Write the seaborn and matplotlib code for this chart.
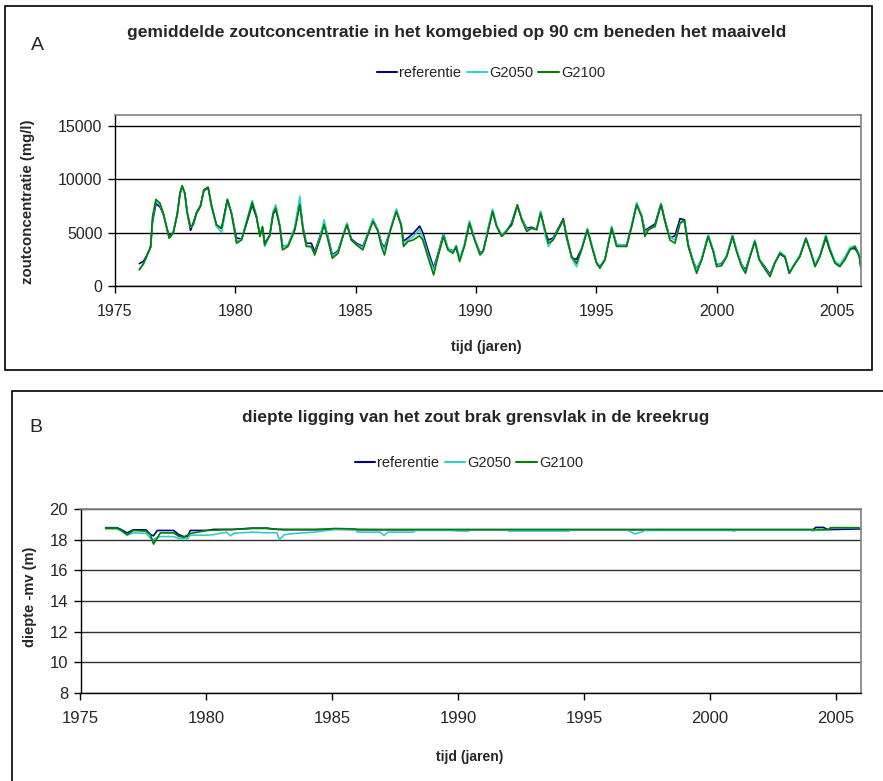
import matplotlib
matplotlib.use("Agg")
import matplotlib.pyplot as plt
from matplotlib.patches import Rectangle
import pandas as pd
import seaborn as sns

# ---------------- gegevens ----------------
scenarios = ["referentie", "G2050", "G2100"]
kleuren = ["#000080", "#33CCCC", "#008000"]

# A: zoutconcentratie (mg/l) op 90 cm beneden maaiveld
jaar_a = [1976.01, 1976.18, 1976.31, 1976.48, 1976.56, 1976.70, 1976.87, 1977.01, 1977.17, 1977.25,
          1977.42, 1977.59, 1977.70, 1977.79, 1977.90, 1978.00, 1978.14, 1978.25, 1978.39, 1978.55,
          1978.69, 1978.87, 1979.01, 1979.22, 1979.43, 1979.67, 1979.84, 1980.05, 1980.26, 1980.46,
          1980.70, 1980.88, 1981.02, 1981.13, 1981.22, 1981.43, 1981.57, 1981.68, 1981.85, 1981.96,
          1982.19, 1982.47, 1982.68, 1982.81, 1982.95, 1983.16, 1983.30, 1983.51, 1983.69, 1983.85,
          1984.03, 1984.27, 1984.47, 1984.64, 1984.82, 1985.03, 1985.30, 1985.51, 1985.72, 1985.93,
          1986.07, 1986.20, 1986.41, 1986.69, 1986.89, 1986.99, 1987.17, 1987.38, 1987.66, 1987.79,
          1988.00, 1988.24, 1988.42, 1988.65, 1988.83, 1989.04, 1989.18, 1989.32, 1989.52, 1989.73,
          1989.94, 1990.17, 1990.30, 1990.51, 1990.69, 1990.86, 1991.07, 1991.27, 1991.48, 1991.72,
          1991.90, 1992.11, 1992.31, 1992.52, 1992.69, 1992.87, 1993.01, 1993.21, 1993.42, 1993.63,
          1993.77, 1993.98, 1994.18, 1994.39, 1994.63, 1994.81, 1995.01, 1995.15, 1995.36, 1995.64,
          1995.84, 1996.05, 1996.26, 1996.47, 1996.68, 1996.88, 1997.02, 1997.16, 1997.44, 1997.69,
          1997.85, 1998.06, 1998.27, 1998.48, 1998.66, 1998.82, 1999.03, 1999.17, 1999.38, 1999.65,
          1999.86, 2000.00, 2000.21, 2000.42, 2000.66, 2000.83, 2001.04, 2001.20, 2001.39, 2001.59,
          2001.77, 2001.94, 2002.22, 2002.42, 2002.63, 2002.84, 2003.02, 2003.19, 2003.46, 2003.71,
          2003.88, 2004.09, 2004.29, 2004.54, 2004.71, 2004.92, 2005.12, 2005.33, 2005.54, 2005.75,
          2005.93, 2005.98]

referentie_a = [2100, 2300, 2800, 3600, 6000, 7700, 7400, 6700, 5300, 4700,
                5000, 6700, 8600, 9300, 8700, 6900, 5200, 5900, 6900, 7500,
                8900, 9200, 7600, 5600, 5400, 8100, 6800, 4500, 4400, 5800,
                7600, 6400, 4800, 5400, 4000, 4700, 6700, 7200, 5600, 3700,
                3800, 5300, 7800, 5500, 4000, 4000, 3200, 4600, 5900, 4600,
                2900, 3300, 4700, 5800, 4400, 4000, 3700, 4900, 6200, 5200,
                4000, 3600, 5000, 7100, 5700, 4200, 4500, 4900, 5600, 5000,
                3400, 1700, 3000, 4900, 3500, 3300, 3500, 2500, 3800, 5900,
                4400, 3100, 3300, 5300, 7000, 5600, 4700, 5200, 5700, 7500,
                6300, 5400, 5500, 5300, 6900, 5100, 4300, 4500, 5400, 6300,
                4500, 2600, 2500, 3500, 5300, 3800, 2200, 1800, 2500, 5500,
                3900, 3800, 3800, 5600, 7700, 6600, 5200, 5400, 5800, 7700,
                6200, 4500, 4700, 6300, 6200, 3900, 2300, 1600, 2500, 4700,
                3300, 2000, 2100, 2800, 4700, 3300, 2000, 1500, 2800, 4200,
                2500, 2000, 1100, 2200, 3000, 2700, 1200, 1900, 2800, 4400,
                3400, 1900, 2800, 4500, 3300, 2200, 1900, 2600, 3500, 3500,
                2900, 2000]

g2050_a = [1600, 2000, 2700, 3700, 6300, 8000, 7600, 6700, 5200, 4500,
           5000, 6800, 8700, 9350, 8600, 6900, 5500, 5700, 6800, 7400,
           9000, 9250, 7500, 5600, 5000, 7900, 6900, 4200, 4400, 6000,
           8000, 6600, 4700, 5500, 3700, 4700, 7000, 7600, 5700, 3600,
           3900, 5500, 8400, 5400, 3800, 3600, 3000, 4500, 6200, 4500,
           2800, 3200, 4700, 5900, 4300, 3900, 3600, 4900, 6300, 5200,
           3900, 3400, 5000, 7200, 5800, 3800, 4300, 4600, 5300, 4600,
           3000, 1500, 2900, 4800, 3600, 3200, 3800, 2600, 3900, 6100,
           4500, 3000, 3300, 5500, 7200, 5700, 4800, 5200, 5900, 7600,
           6300, 5300, 5400, 5300, 7000, 4800, 3700, 4400, 5300, 6200,
           4700, 2600, 1800, 3500, 5400, 3900, 2200, 1700, 2500, 5600,
           3900, 3800, 3700, 5700, 7800, 6600, 5000, 5300, 5600, 7700,
           6100, 4600, 4300, 5900, 6000, 3800, 2300, 1500, 2600, 4800,
           3400, 2100, 2000, 2900, 4800, 3400, 2000, 1300, 2900, 4300,
           2600, 1900, 1000, 2200, 3200, 2800, 1300, 1900, 2900, 4500,
           3400, 2000, 2800, 4800, 3500, 2300, 2000, 2700, 3600, 3750,
           3000, 2400]

g2100_a = [1500, 2100, 2750, 3700, 6500, 8100, 7750, 6800, 5250, 4470,
           4940, 6800, 8700, 9380, 8700, 6800, 5570, 5720, 6800, 7440,
           9000, 9250, 7440, 5720, 5410, 8070, 6800, 4000, 4300, 5880,
           7820, 6500, 4630, 5570, 3850, 4780, 6800, 7290, 5570, 3380,
           3700, 5250, 7600, 5250, 3700, 3700, 2900, 4300, 5720, 4300,
           2600, 3060, 4630, 5720, 4300, 3850, 3380, 4780, 6030, 5100,
           3700, 2900, 4940, 6970, 5720, 3700, 4160, 4300, 4700, 4300,
           2750, 1030, 2750, 4630, 3380, 3060, 3700, 2280, 3700, 5880,
           4300, 2900, 3220, 5250, 6970, 5570, 4630, 5100, 5880, 7600,
           6190, 5100, 5410, 5250, 6800, 5250, 4000, 4300, 5250, 6190,
           4630, 2750, 2130, 3380, 5250, 3700, 2130, 1660, 2440, 5410,
           3700, 3700, 3700, 5570, 7600, 6500, 4630, 5250, 5570, 7600,
           6030, 4300, 4000, 5880, 6190, 3700, 2130, 1190, 2440, 4630,
           3220, 1810, 1900, 2750, 4630, 3220, 1810, 1190, 2750, 4160,
           2440, 1810, 875, 2130, 3060, 2750, 1190, 1810, 2750, 4470,
           3380, 1810, 2750, 4630, 3380, 2130, 1810, 2440, 3380, 3700,
           2750, 1810]

# B: diepte van het zout/brak grensvlak (m -mv)
jaar_b = [1976.0, 1976.45, 1976.6, 1976.85, 1977.1, 1977.6, 1977.78, 1977.9, 1978.05, 1978.17,
          1978.7, 1978.9, 1979.1, 1979.25, 1979.36, 1980.0, 1980.3, 1980.8, 1980.96, 1981.1,
          1981.8, 1982.4, 1982.8, 1982.9, 1983.1, 1983.6, 1984.3, 1984.8, 1985.1, 1985.9,
          1986.0, 1986.9, 1987.06, 1987.2, 1988.2, 1988.3, 1989.8, 1990.0, 1990.4, 1990.5,
          1991.9, 1992.0, 1994.4, 1994.5, 1996.7, 1997.0, 1997.3, 1997.4, 2000.85, 2000.95,
          2001.05, 2004.0, 2004.1, 2004.2, 2004.5, 2004.7, 2004.8, 2005.9, 2006.0]

referentie_b = [18.78, 18.78, 18.67, 18.44, 18.64, 18.64, 18.33, 18.25, 18.60, 18.60,
                18.60, 18.33, 18.20, 18.20, 18.60, 18.60, 18.67, 18.67, 18.67, 18.67,
                18.75, 18.75, 18.67, 18.67, 18.65, 18.65, 18.65, 18.65, 18.68, 18.66,
                18.65, 18.65, 18.65, 18.65, 18.65, 18.65, 18.65, 18.65, 18.65, 18.65,
                18.65, 18.65, 18.65, 18.65, 18.65, 18.65, 18.65, 18.65, 18.65, 18.65,
                18.65, 18.65, 18.65, 18.80, 18.80, 18.65, 18.66, 18.70, 18.68]

g2050_b = [18.73, 18.73, 18.60, 18.29, 18.44, 18.42, 18.10, 18.00, 18.15, 18.20,
           18.20, 18.07, 18.07, 18.07, 18.29, 18.29, 18.33, 18.49, 18.25, 18.42,
           18.49, 18.45, 18.45, 18.00, 18.33, 18.42, 18.49, 18.60, 18.67, 18.67,
           18.49, 18.49, 18.27, 18.49, 18.49, 18.60, 18.60, 18.56, 18.56, 18.64,
           18.64, 18.56, 18.56, 18.64, 18.64, 18.38, 18.50, 18.60, 18.60, 18.55,
           18.62, 18.62, 18.56, 18.62, 18.62, 18.65, 18.78, 18.78, 18.68]

g2100_b = [18.73, 18.73, 18.62, 18.33, 18.60, 18.56, 18.30, 17.71, 18.11, 18.44,
           18.44, 18.22, 18.16, 18.30, 18.40, 18.60, 18.62, 18.65, 18.65, 18.67,
           18.73, 18.73, 18.68, 18.67, 18.67, 18.67, 18.67, 18.70, 18.73, 18.70,
           18.67, 18.66, 18.66, 18.66, 18.66, 18.66, 18.66, 18.66, 18.66, 18.66,
           18.66, 18.66, 18.66, 18.66, 18.66, 18.66, 18.66, 18.66, 18.66, 18.66,
           18.66, 18.66, 18.66, 18.66, 18.66, 18.66, 18.78, 18.78, 18.68]

jaar_ticks = [1975, 1980, 1985, 1990, 1995, 2000, 2005]
conc_ticks = [0, 5000, 10000, 15000]
diepte_ticks = [8, 10, 12, 14, 16, 18, 20]


def lang_formaat(jaar, reeksen):
    delen = []
    for naam, waarden in zip(scenarios, reeksen):
        delen.append(pd.DataFrame({"jaar": jaar, "waarde": waarden, "scenario": naam}))
    return pd.concat(delen, ignore_index=True)


df_a = lang_formaat(jaar_a, [referentie_a, g2050_a, g2100_a])
df_b = lang_formaat(jaar_b, [referentie_b, g2050_b, g2100_b])

# ---------------- opmaak ----------------
sns.set_style("white")
plt.rcParams["font.family"] = ["Liberation Sans", "DejaVu Sans"]
LETTER = ["Liberation Sans", "DejaVu Sans"]
GRIJS = "#808080"

W, H = 883, 781
fig = plt.figure(figsize=(W / 100, H / 100), dpi=100)


def fx(px):
    return px / W


def fy(py):
    return 1 - py / H


# kaders rond beide panelen
fig.add_artist(Rectangle((fx(5), fy(370)), fx(867), (370 - 6) / H, transform=fig.transFigure,
                         fill=False, edgecolor="black", linewidth=1.2))
fig.add_artist(Rectangle((fx(12), -0.05), 1.1, fy(391) + 0.05, transform=fig.transFigure,
                         fill=False, edgecolor="black", linewidth=1.2))


def teken_paneel(ax, df, ylim, yticks, gridkleur, ticksize):
    sns.lineplot(data=df, x="jaar", y="waarde", hue="scenario", hue_order=scenarios,
                 palette=kleuren, estimator=None, sort=False, errorbar=None,
                 linewidth=1.2, ax=ax)
    ax.set_xlim(1975, 2006)
    ax.set_ylim(*ylim)
    ax.set_xticks(jaar_ticks)
    ax.set_yticks(yticks)
    ax.yaxis.grid(True, color=gridkleur, linewidth=1.0)
    ax.xaxis.grid(False)
    ax.set_axisbelow(True)
    for kant in ("left", "bottom"):
        ax.spines[kant].set_color("black")
        ax.spines[kant].set_linewidth(1.0)
    for kant in ("top", "right"):
        ax.spines[kant].set_color(GRIJS)
        ax.spines[kant].set_linewidth(1.2)
    ax.tick_params(axis="both", direction="out", length=5, width=1, color="black",
                   labelsize=ticksize, pad=4, left=True, bottom=True)
    handles, labels = ax.get_legend_handles_labels()
    ax.get_legend().remove()
    return handles, labels


def legenda(ax, h, l, cx, cy):
    leg = ax.legend(h, l, loc="center", bbox_to_anchor=(fx(cx), fy(cy)),
                    bbox_transform=fig.transFigure, ncol=3, frameon=False,
                    handlelength=1.4, handletextpad=0.15, columnspacing=0.35,
                    prop={"family": LETTER, "size": 10.5})
    for lijn in leg.get_lines():
        lijn.set_linewidth(1.5)


# ---------- paneel A ----------
ax_a = fig.add_axes([fx(115), fy(286), fx(746), 171 / H])
h, l = teken_paneel(ax_a, df_a, (0, 16000), conc_ticks, "black", 11.5)
ax_a.xaxis.set_tick_params(pad=8)
ax_a.set_ylabel("zoutconcentratie (mg/l)", fontsize=10.8, fontweight="bold")
ax_a.yaxis.set_label_coords((35 - 115) / 746, 0.49)
ax_a.set_xlabel("tijd (jaren)", fontsize=10.5, fontweight="bold")
ax_a.xaxis.set_label_coords((486 - 115) / 746, (286 - 340) / 171)
fig.text(fx(457), fy(33), "gemiddelde zoutconcentratie in het komgebied op 90 cm beneden het maaiveld",
         ha="center", va="center", fontsize=12.6, fontweight="bold")
fig.text(fx(37), fy(45), "A", ha="center", va="center", fontsize=14)
legenda(ax_a, h, l, 491, 73)

# ---------- paneel B ----------
ax_b = fig.add_axes([fx(80.5), fy(693), fx(780.5), 184 / H])
h, l = teken_paneel(ax_b, df_b, (8, 20), diepte_ticks, "#303030", 12)
ax_b.xaxis.set_tick_params(pad=8)
ax_b.set_ylabel("diepte -mv (m)", fontsize=10.5, fontweight="bold")
ax_b.yaxis.set_label_coords((37 - 80.5) / 780.5, 1 - (597 - 509) / 184)
ax_b.set_xlabel("tijd (jaren)", fontsize=10, fontweight="bold")
ax_b.xaxis.set_label_coords((470 - 80.5) / 780.5, (693 - 750) / 184)
fig.text(fx(476), fy(418), "diepte ligging van het zout brak grensvlak in de kreekrug",
         ha="center", va="center", fontsize=12.4, fontweight="bold")
fig.text(fx(36), fy(427), "B", ha="center", va="center", fontsize=14)
legenda(ax_b, h, l, 469, 463)

fig.savefig("out.png", dpi=100)
